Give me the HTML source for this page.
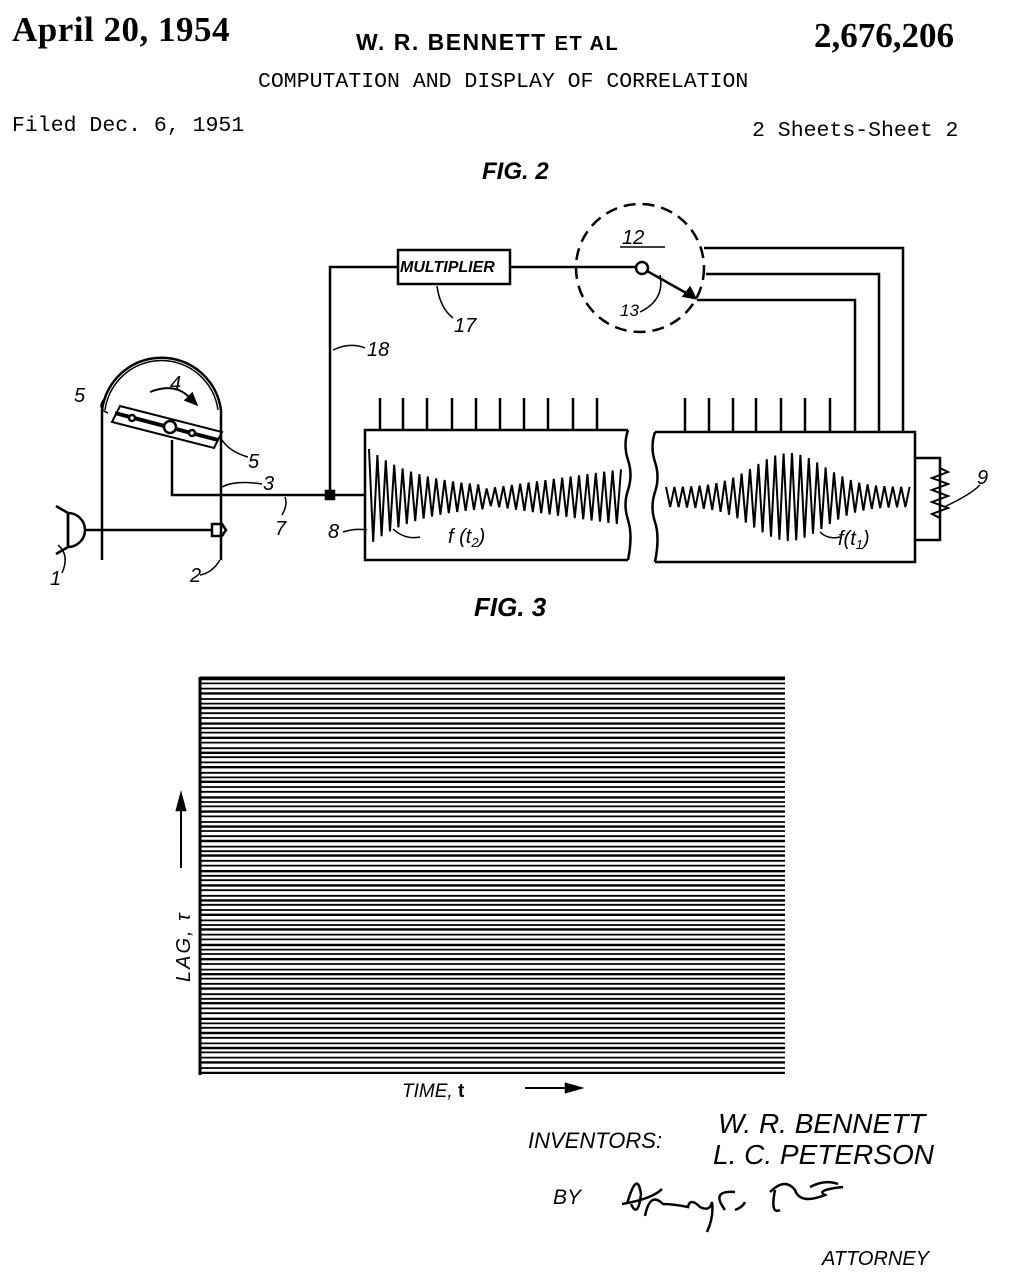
<!DOCTYPE html>
<html><head><meta charset="utf-8">
<style>
body{margin:0;background:#fff;width:1017px;height:1280px;overflow:hidden;position:relative;font-family:"Liberation Sans",sans-serif;color:#000}
.t{position:absolute;white-space:nowrap}
.serif{font-family:"Liberation Serif",serif;font-weight:bold}
.mono{font-family:"Liberation Mono",monospace}
.it{font-style:italic}
</style></head><body>
<div class="t serif" style="left:12px;top:10px;font-size:35px;letter-spacing:0.5px">April 20, 1954</div>
<div class="t" style="left:356px;top:29px;font-size:23px;font-weight:bold;letter-spacing:1.5px">W. R. BENNETT <span style="font-size:20px">ET AL</span></div>
<div class="t serif" style="left:814px;top:16px;font-size:35px">2,676,206</div>
<div class="t mono" style="left:258px;top:70px;font-size:21.5px">COMPUTATION AND DISPLAY OF CORRELATION</div>
<div class="t mono" style="left:12px;top:114px;font-size:21.5px">Filed Dec. 6, 1951</div>
<div class="t mono" style="left:752px;top:119px;font-size:21.5px">2 Sheets-Sheet 2</div>
<div class="t it" style="left:482px;top:158px;font-size:24px;font-weight:bold">FIG. 2</div>
<div class="t it" style="left:474px;top:592px;font-size:26px;font-weight:bold">FIG. 3</div>

<svg width="1017" height="1280" style="position:absolute;left:0;top:0" id="s">
<g fill="none" stroke="#000" stroke-width="2.5">
<path d="M102 560 V410 A60 60 0 0 1 221 410 V560"/>
<path d="M105 410 A57 57 0 0 1 218 410" stroke-width="1.5"/>
<path d="M112 422 L120 406 L222 432 L214 448 Z" stroke-width="2"/>
<line x1="115" y1="413" x2="218" y2="440" stroke-width="4"/>
<circle cx="170" cy="427" r="6" fill="#fff"/>
<circle cx="132" cy="418" r="3" fill="#fff"/>
<circle cx="192" cy="433" r="3" fill="#fff"/>
<path d="M172 440 V495 H365"/>
<path d="M150 392 Q175 382 190 398" stroke-width="2"/>
<path d="M196 404 L186 400 L192 394 Z" fill="#000"/>
<path d="M68 513 A17 17 0 0 1 68 547 Z"/>
<path d="M56 506 L68 513 V547 L56 554"/>
<path d="M85 530 H212"/>
<path d="M212 524 H222 L226 530 L222 536 H212 Z"/>
<path d="M330 495 V267 H398"/>
<rect x="398" y="250" width="112" height="34"/>
<path d="M510 267 H640"/>
<rect x="326" y="491" width="8" height="8" fill="#000"/>
<circle cx="640" cy="268" r="64" stroke-dasharray="12 7"/>
<line x1="620" y1="247" x2="665" y2="247" stroke-width="1.5"/>
<circle cx="642" cy="268" r="6" fill="#fff"/>
<path d="M647 271 L695 298"/>
<path d="M695 298 L684 296 L690 288 Z" fill="#000"/>
<path d="M704 248 H903 V432 M706 274 H879 V432 M697 300 H855 V432"/>
<path d="M628 430 H365 V560 H628"/>
<path d="M628 430 q-5 15 0 30 q5 15 0 30 q-5 15 0 30 q5 15 0 40"/>
<path d="M655 432 H915 V562 H655"/>
<path d="M655 432 q-5 15 0 30 q5 15 0 30 q-5 15 0 30 q5 15 0 40"/>
<path d="M915 458 H940 V540 H915"/>
<path d="M940 468 l8 4 -16 6 16 6 -16 6 16 6 -16 6 16 6 -16 6 8 4 V540" stroke-width="2"/>
<g id="ticks"></g>
<path id="w1" stroke-width="2"/>
<path id="w2" stroke-width="2"/>
<g stroke-width="1.5">
<path d="M106 397 Q95 408 108 413"/>
<path d="M222 440 Q230 452 248 457"/>
<path d="M222 487 Q235 480 262 484"/>
<path d="M282 515 Q288 505 285 497"/>
<path d="M343 532 Q355 528 367 530"/>
<path d="M200 575 Q212 573 220 560"/>
<path d="M58 545 Q70 555 62 573"/>
<path d="M333 350 Q350 342 365 348"/>
<path d="M437 286 Q440 308 453 318"/>
<path d="M660 275 Q665 300 640 312"/>
<path d="M393 529 Q405 540 420 537"/>
<path d="M820 532 Q828 540 840 537"/>
<path d="M944 507 Q970 495 980 485"/>
</g>
<line x1="200" y1="677" x2="200" y2="1075" stroke-width="3"/>
<line x1="181" y1="868" x2="181" y2="800" stroke-width="2"/>
<path d="M181 795 L177 810 L185 810 Z" fill="#000"/>
<line x1="525" y1="1088" x2="572" y2="1088" stroke-width="2"/>
<path d="M580 1088 L566 1084 L566 1092 Z" fill="#000"/>
<g id="hl"></g>
<g transform="translate(5,112)">
<path d="M622 1092 q10 -35 14 -10 q-3 25 -10 10 M617 1092 q30 -5 40 -15 M640 1104 q5 -25 18 -12 q10 0 25 3 q2 -10 12 0 q10 5 12 -5 q2 15 -5 30 M720 1098 q-15 -20 10 -18 M730 1098 q8 -3 10 -8 M770 1078 q-5 25 5 20 M765 1080 q15 -15 25 -2 q5 15 30 5 q-10 -5 18 -8 M805 1075 q15 -8 28 -3" stroke-width="2.5"/>
</g>
</g>
<g font-family="Liberation Sans" font-style="italic" font-size="20">
<text x="400" y="272" font-size="16" font-weight="bold">MULTIPLIER</text>
<text x="622" y="244">12</text>
<text x="620" y="316" font-size="17">13</text>
<text x="454" y="332">17</text>
<text x="367" y="356">18</text>
<text x="170" y="390">4</text>
<text x="74" y="402">5</text>
<text x="248" y="468">5</text>
<text x="263" y="490">3</text>
<text x="275" y="535">7</text>
<text x="328" y="538">8</text>
<text x="190" y="582">2</text>
<text x="50" y="585">1</text>
<text x="977" y="484">9</text>
<text x="448" y="543">f (t<tspan font-size="13" dy="4">2</tspan><tspan dy="-4">)</tspan></text>
<text x="838" y="545">f(t<tspan font-size="13" dy="4">1</tspan><tspan dy="-4">)</tspan></text>
<text x="190" y="982" font-size="20" letter-spacing="2" transform="rotate(-90 190 982)">LAG,  τ</text>
<text x="402" y="1097" font-size="19">TIME, <tspan font-style="normal" font-weight="bold">t</tspan></text>
<text x="528" y="1148" font-size="22">INVENTORS:</text>
<text x="718" y="1133" font-size="28">W. R. BENNETT</text>
<text x="713" y="1164" font-size="28">L. C. PETERSON</text>
<text x="553" y="1204" font-size="21">BY</text>
<text x="822" y="1265" font-size="20">ATTORNEY</text>
</g>
</svg>
<script>
var ns="http://www.w3.org/2000/svg";
function ln(g,x1,y1,x2,y2,w){var l=document.createElementNS(ns,"line");l.setAttribute("x1",x1);l.setAttribute("y1",y1);l.setAttribute("x2",x2);l.setAttribute("y2",y2);l.setAttribute("stroke-width",w);g.appendChild(l);}
var tk=document.getElementById("ticks");
[380,403,427,452,476,500,524,548,573,597].forEach(function(x){ln(tk,x,398,x,430,2.5)});
[685,709,733,756,781,805,830].forEach(function(x){ln(tk,x,398,x,432,2.5)});
function wave(id,x0,x1,cy,env){var d="",i=0;for(var x=x0;x<=x1;x+=4.2){var a=env((x-x0)/(x1-x0));var y=cy+(i%2?a:-a);d+=(i?"L":"M")+x.toFixed(1)+" "+y.toFixed(1);i++;}document.getElementById(id).setAttribute("d",d);}
wave("w1",369,622,497,function(t){return t<0.45?40*Math.exp(-t*5)+8:8+20*(t-0.45)*1.8;});
wave("w2",666,912,497,function(t){return 10+34*Math.exp(-Math.pow((t-0.5)/0.2,2));});
var hl=document.getElementById("hl");var y=679,k=0;
while(y<1075){ln(hl,200,y,785,y,(k%3==0)?2.4:1.8);y+=[4.4,5.2,4.8,5.6,4.6][k%5];k++;}
ln(hl,200,677.5,785,677.5,2);ln(hl,200,1073,785,1073,2);
</script>
</body></html>
